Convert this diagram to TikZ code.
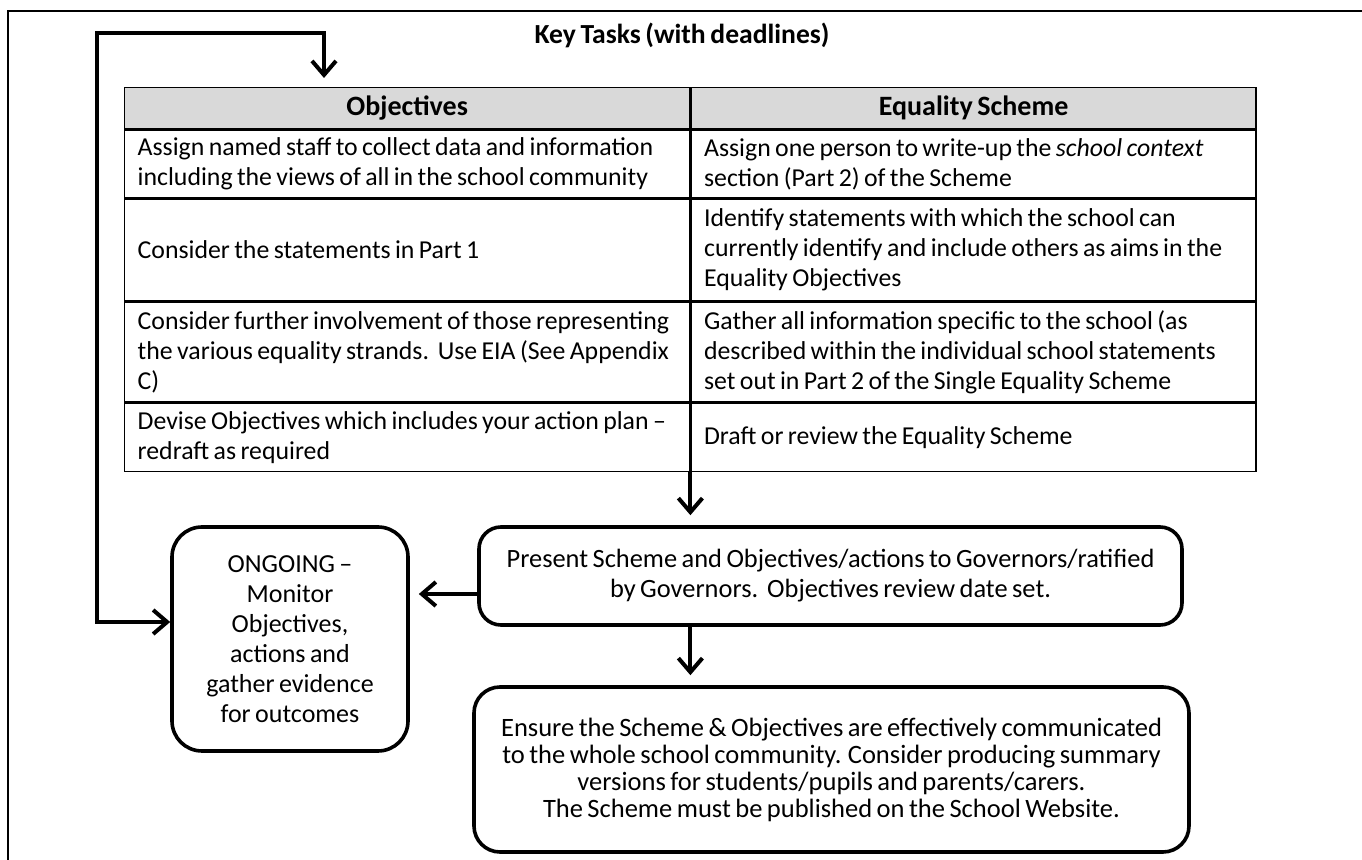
\documentclass[tikz,border=0pt]{standalone}
\usepackage{fontspec}
\setmainfont{Carlito}[WordSpace=0.75]
\usetikzlibrary{arrows.meta}
\definecolor{headgray}{HTML}{D9D9D9}
\begin{document}
\begin{tikzpicture}[x=0.5pt,y=-0.5pt,
    txt/.style={font=\fontsize{12.9}{15}\selectfont},
    cell/.style={txt,draw,line width=0.7pt,anchor=north west,inner xsep=6.5pt,inner ysep=0pt,
      text width=269.5pt,minimum width=282.5pt,align=flush left},
    head/.style={cell,fill=headgray,align=flush center,minimum height=20.5pt,font=\fontsize{14}{15}\selectfont\bfseries},
    box/.style={draw,line width=1.8pt,rounded corners=13pt,align=center,inner sep=0pt},
    tip/.tip={Straight Barb[length=7pt,width=12pt,line width=2pt]},
    flow/.style={line width=2pt,-tip}]
  \useasboundingbox (0,0) rectangle (1362,860);
  \draw[line width=1pt] (8,860) -- (8,11) -- (1362,11);
  \node[font=\fontsize{13.8}{16}\selectfont\bfseries] (title) at (682,35) {Key Tasks (with deadlines)};
  \node[head] (h1) at (124,87) {Objectives};
  \node[head] (h2) at (h1.north east) {Equality Scheme};
  \node[cell,minimum height=34pt] (o1) at (h1.south west)
    {Assign named staff to collect data and information\\including the views of all in the school community};
  \node[cell,minimum height=34pt] (e1) at (o1.north east)
    {Assign one person to write-up the \textit{school context}\\section (Part 2) of the Scheme};
  \node[cell,minimum height=50.5pt] (o2) at (o1.south west)
    {Consider the statements in Part 1};
  \node[cell,minimum height=50.5pt] (e2) at (o2.north east)
    {Identify statements with which the school can\\currently identify and include others as aims in the\\Equality Objectives};
  \node[cell,minimum height=50pt] (o3) at (o2.south west)
    {Consider further involvement of those representing\\the various equality strands.\ \ Use EIA (See Appendix\\C)};
  \node[cell,minimum height=50pt] (e3) at (o3.north east)
    {Gather all information specific to the school (as\\described within the individual school statements\\set out in Part 2 of the Single Equality Scheme};
  \node[cell,minimum height=34pt] (o4) at (o3.south west)
    {Devise Objectives which includes your action plan --\\redraft as required};
  \node[cell,minimum height=34pt] (e4) at (o4.north east)
    {Draft or review the Equality Scheme};
  \node[box,font=\fontsize{13}{15}\selectfont,minimum width=118pt,minimum height=112pt,rounded corners=15pt] (ongoing) at (290,639)
    {ONGOING --\\Monitor\\Objectives,\\actions and\\gather evidence\\for outcomes};
  \node[box,font=\fontsize{13.2}{15}\selectfont,minimum width=351.5pt,minimum height=49pt,rounded corners=11pt] (present) at (830.5,576)
    {Present Scheme and Objectives/actions to Governors/ratified\\by Governors.\ \ Objectives review date set.};
  \node[box,font=\fontsize{13.25}{13.5}\selectfont,minimum width=357.5pt,minimum height=82.5pt] (ensure) at (831.5,769.5)
    {Ensure the Scheme \& Objectives are effectively communicated\\to the whole school community. Consider producing summary\\versions for students/pupils and parents/carers.\\The Scheme must be published on the School Website.};
  \coordinate (top) at (324,87);
  \coordinate (bend) at (97,622);
  \draw[flow,shorten >=5pt] (o4.south east) -- (o4.south east |- present.north);
  \draw[flow,shorten >=5pt] (o4.south east |- present.south) -- (o4.south east |- ensure.north);
  \draw[flow,shorten >=4.5pt] ([yshift=-9pt]present.west) -- ([yshift=-9pt]present.west -| ongoing.east);
  \draw[line width=2pt,tip-tip,shorten <=4.5pt] (top) -- ++(0,-54) -| (bend) -- (bend -| ongoing.west);
\end{tikzpicture}
\end{document}
